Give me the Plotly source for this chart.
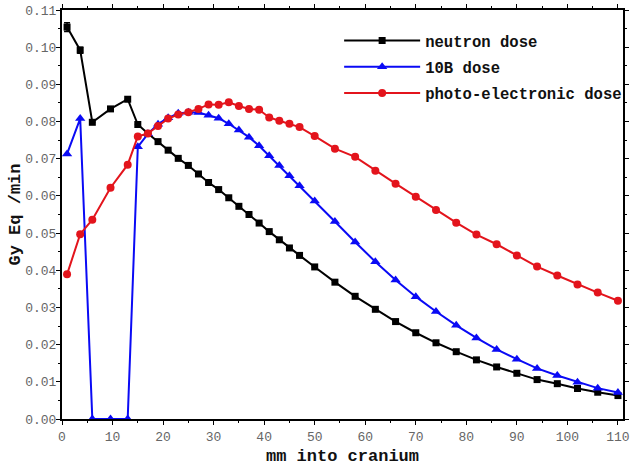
import plotly.graph_objects as go

depth_mm = [1, 3.6, 6, 9.6, 13, 15, 17, 19, 21, 23, 25, 27, 29, 31, 33, 35, 37, 39, 41, 43,
            45, 47, 50, 54, 58, 62, 66, 70, 74, 78, 82, 86, 90, 94, 98, 102, 106, 110]

neutron_dose = [0.1054, 0.0992, 0.0798, 0.0834, 0.0860, 0.0792, 0.0768, 0.0746, 0.0723, 0.0701,
                0.0682, 0.0659, 0.0636, 0.0617, 0.0595, 0.0572, 0.0550, 0.0527, 0.0504, 0.0482,
                0.0460, 0.0440, 0.0409, 0.0368, 0.0330, 0.0295, 0.0262, 0.0232, 0.0205, 0.0181,
                0.0159, 0.0140, 0.0123, 0.0106, 0.0095, 0.0082, 0.0072, 0.0063]
neutron_err = [0.0012, 0.0008] + [0] * 36

boron_dose = [0.0713, 0.0808, 0.0, 0.0, 0.0, 0.0732, 0.0767, 0.0793, 0.0810, 0.0822,
              0.0825, 0.0824, 0.0817, 0.0809, 0.0794, 0.0777, 0.0758, 0.0735, 0.0708, 0.0682,
              0.0654, 0.0627, 0.0586, 0.0531, 0.0476, 0.0423, 0.0374, 0.0329, 0.0289, 0.0252,
              0.0218, 0.0187, 0.0161, 0.0136, 0.0117, 0.0099, 0.0083, 0.0071]

photo_dose = [0.0389, 0.0497, 0.0536, 0.0622, 0.0684, 0.0760, 0.0768, 0.0788, 0.0808, 0.0819,
              0.0825, 0.0834, 0.0846, 0.0845, 0.0852, 0.0842, 0.0834, 0.0832, 0.0811, 0.0802,
              0.0794, 0.0785, 0.0761, 0.0727, 0.0705, 0.0668, 0.0633, 0.0598, 0.0562, 0.0528,
              0.0496, 0.0470, 0.0440, 0.0410, 0.0386, 0.0362, 0.0340, 0.0318]

series_names = ["neutron dose", "10B dose", "photo-electronic dose"]

fig = go.Figure()
fig.add_trace(go.Scatter(
    x=depth_mm, y=neutron_dose, name=series_names[0], legendgroup="a",
    mode="lines+markers",
    line=dict(color="black", width=2),
    marker=dict(symbol="square", size=7, color="black"),
    error_y=dict(type="data", array=neutron_err, visible=True, color="black",
                 thickness=1.5, width=3),
))
fig.add_trace(go.Scatter(
    x=depth_mm, y=boron_dose, name=series_names[1], legendgroup="b",
    mode="lines+markers",
    line=dict(color="#0a0af5", width=2),
    marker=dict(symbol="triangle-up", size=9, color="#0a0af5"),
))
fig.add_trace(go.Scatter(
    x=depth_mm, y=photo_dose, name=series_names[2], legendgroup="c",
    mode="lines+markers",
    line=dict(color="#e3141c", width=2),
    marker=dict(symbol="circle", size=8, color="#e3141c"),
))

tickfont = dict(family="Liberation Mono, DejaVu Sans Mono, monospace", size=13, color="#666666")
titlefont = dict(family="Liberation Mono, DejaVu Sans Mono, monospace", size=17, color="#111111",
                 weight="bold")

fig.update_layout(
    width=633, height=466,
    margin=dict(l=62, r=4, t=10, b=43),
    paper_bgcolor="white", plot_bgcolor="white",
    showlegend=True,
    legend=dict(
        x=0.494, y=0.966, xanchor="left", yanchor="top",
        bgcolor="rgba(0,0,0,0)",
        font=dict(family="Liberation Mono, DejaVu Sans Mono, monospace", size=15.6,
                  color="#111111", weight="bold"),
        itemwidth=76, tracegroupgap=3,
    ),
    xaxis=dict(
        range=[0, 111], tick0=0, dtick=10, showgrid=False, zeroline=False,
        showline=True, linecolor="black", linewidth=2, mirror="ticks",
        ticks="outside", ticklen=4, tickwidth=1, tickcolor="black",
        minor=dict(dtick=5, ticks="outside", ticklen=2, tickcolor="black"),
        tickfont=tickfont,
        title=dict(text="mm into cranium", font=titlefont, standoff=6),
    ),
    yaxis=dict(
        range=[0, 0.11], tick0=0, dtick=0.01, tickformat=".2f", showgrid=False, zeroline=False,
        showline=True, linecolor="black", linewidth=2, mirror="ticks",
        ticks="outside", ticklen=4, tickwidth=1, tickcolor="black",
        minor=dict(dtick=0.005, ticks="outside", ticklen=2, tickcolor="black"),
        tickfont=tickfont, ticklabelstandoff=-3,
        title=dict(text="Gy Eq /min", font=titlefont, standoff=0),
    ),
)

fig.write_html("out.html", config={"displayModeBar": False},
               post_script="document.body.style.margin='0';")
